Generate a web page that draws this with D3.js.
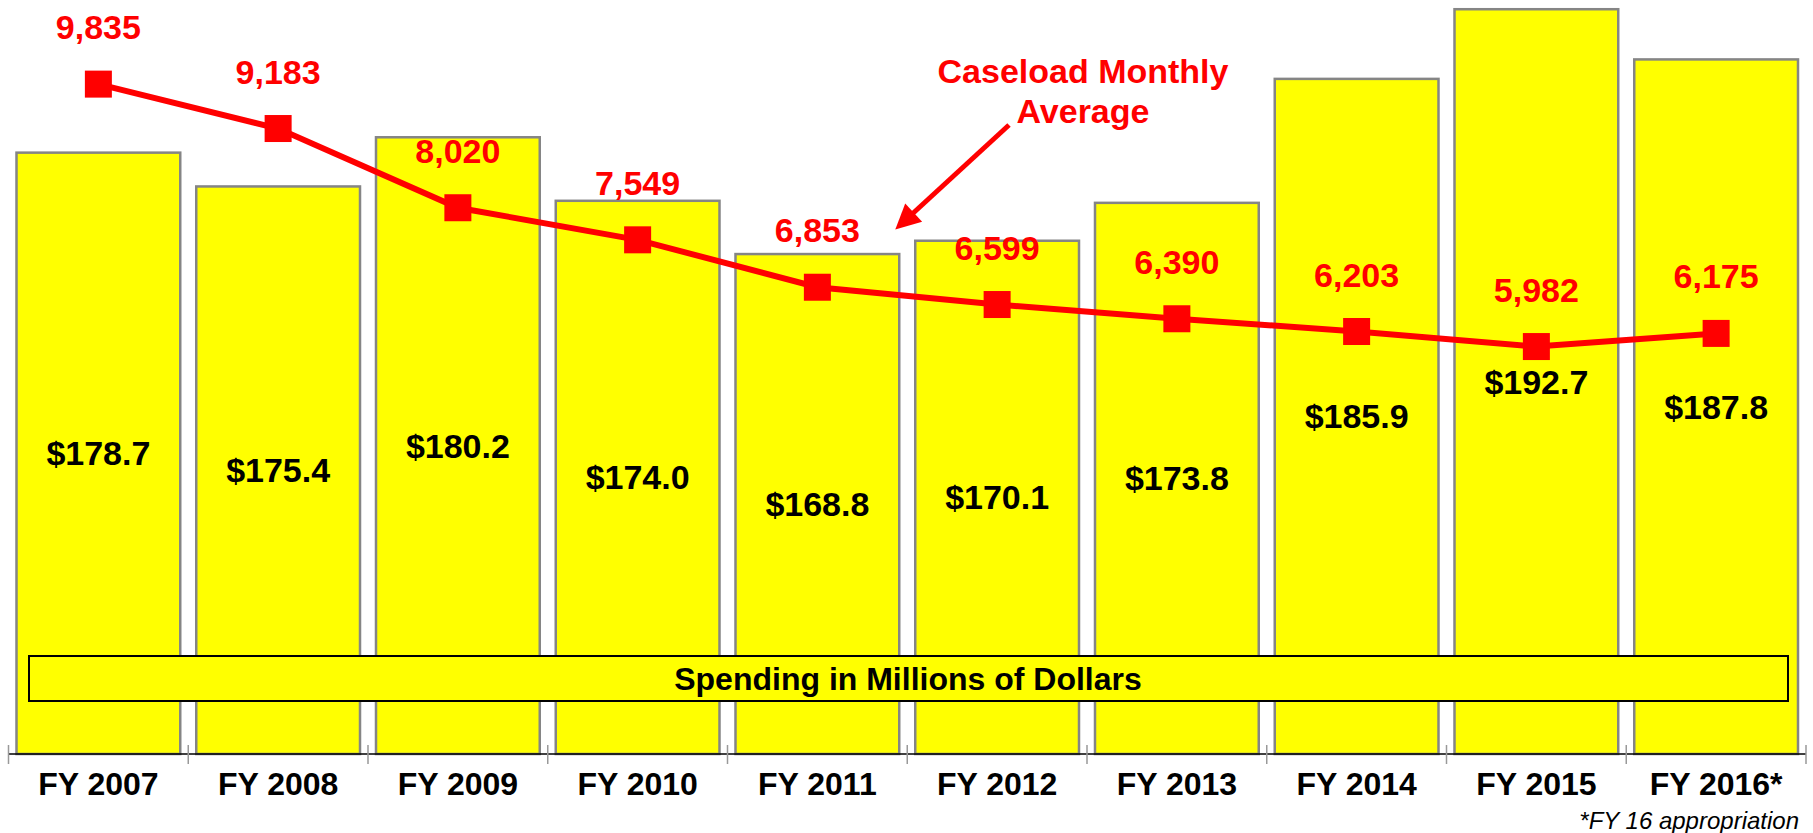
<!DOCTYPE html>
<html>
<head>
<meta charset="utf-8">
<script src="https://cdn.jsdelivr.net/npm/d3@7"></script>
<style>
  html, body { margin: 0; padding: 0; background: #fff; }
  svg { display: block; font-family: "Liberation Sans", Arial, sans-serif; }
</style>
</head>
<body>
<div class="canvas"></div>
<script>
// chart data
const years = ['FY 2007', 'FY 2008', 'FY 2009', 'FY 2010', 'FY 2011', 'FY 2012', 'FY 2013', 'FY 2014', 'FY 2015', 'FY 2016*'];
const spending = [178.7, 175.4, 180.2, 174.0, 168.8, 170.1, 173.8, 185.9, 192.7, 187.8]; // millions of dollars
const caseload = [9835, 9183, 8020, 7549, 6853, 6599, 6390, 6203, 5982, 6175]; // monthly average

// dimensions of the page
const dims = { width: 1813, height: 833 };
const plot = { left: 8.5, right: 1806, top: 0, bottom: 754 };

const svg = d3.select('.canvas')
  .append('svg')
  .attr('width', dims.width)
  .attr('height', dims.height);

// band scale for the fiscal years, bars fill most of each slot
const x = d3.scaleBand()
  .domain(years)
  .range([plot.left, plot.right])
  .paddingInner(0.089)
  .paddingOuter(0.0445);

// the spending axis does not start at zero
const yBar = d3.scaleLinear()
  .domain([120, 193.6])
  .range([plot.bottom, plot.top]);

// caseload uses its own (hidden) axis that starts at zero on the baseline
const yCase = d3.scaleLinear()
  .domain([0, 11070])
  .range([plot.bottom, plot.top]);

// bars
svg.append('g')
  .selectAll('rect')
  .data(spending)
  .enter()
  .append('rect')
  .attr('x', (d, i) => x(years[i]))
  .attr('y', d => yBar(d))
  .attr('width', x.bandwidth())
  .attr('height', d => plot.bottom - yBar(d))
  .attr('fill', '#ffff00')
  .attr('stroke', '#858585')
  .attr('stroke-width', 2.5);

// spending labels, in the middle of each bar
svg.append('g')
  .selectAll('text')
  .data(spending)
  .enter()
  .append('text')
  .attr('x', (d, i) => x(years[i]) + x.bandwidth() / 2)
  .attr('y', d => (yBar(d) + plot.bottom) / 2 + 12)
  .attr('text-anchor', 'middle')
  .attr('font-size', 34)
  .attr('font-weight', 'bold')
  .attr('fill', '#000')
  .text(d => '$' + d3.format('.1f')(d));

// "Spending in Millions of Dollars" banner across the bars
const banner = svg.append('g');
banner.append('rect')
  .attr('x', 29)
  .attr('y', 656)
  .attr('width', 1759)
  .attr('height', 45)
  .attr('fill', '#ffff00')
  .attr('stroke', '#000')
  .attr('stroke-width', 2);
banner.append('text')
  .attr('x', 908)
  .attr('y', 690)
  .attr('text-anchor', 'middle')
  .attr('font-size', 32)
  .attr('font-weight', 'bold')
  .attr('fill', '#000')
  .text('Spending in Millions of Dollars');

// caseload line
const line = d3.line()
  .x((d, i) => x(years[i]) + x.bandwidth() / 2)
  .y(d => yCase(d));

svg.append('path')
  .datum(caseload)
  .attr('d', line)
  .attr('fill', 'none')
  .attr('stroke', '#ff0000')
  .attr('stroke-width', 6);

// square markers
const mark = 27;
svg.append('g')
  .selectAll('rect')
  .data(caseload)
  .enter()
  .append('rect')
  .attr('x', (d, i) => x(years[i]) + x.bandwidth() / 2 - mark / 2)
  .attr('y', d => yCase(d) - mark / 2)
  .attr('width', mark)
  .attr('height', mark)
  .attr('fill', '#ff0000');

// caseload labels above the markers
svg.append('g')
  .selectAll('text')
  .data(caseload)
  .enter()
  .append('text')
  .attr('x', (d, i) => x(years[i]) + x.bandwidth() / 2)
  .attr('y', d => yCase(d) - 45)
  .attr('text-anchor', 'middle')
  .attr('font-size', 34)
  .attr('font-weight', 'bold')
  .attr('fill', '#ff0000')
  .text(d => d3.format(',')(d));

// annotation with arrow
svg.append('defs')
  .append('marker')
  .attr('id', 'arrow')
  .attr('viewBox', '0 0 10 10')
  .attr('refX', 2)
  .attr('refY', 5)
  .attr('markerWidth', 6)
  .attr('markerHeight', 5)
  .attr('orient', 'auto')
  .append('path')
  .attr('d', 'M0,0 L10,5 L0,10 Z')
  .attr('fill', '#ff0000');

svg.append('line')
  .attr('x1', 1009)
  .attr('y1', 125)
  .attr('x2', 910)
  .attr('y2', 216)
  .attr('stroke', '#ff0000')
  .attr('stroke-width', 5)
  .attr('marker-end', 'url(#arrow)');

const note = svg.append('text')
  .attr('text-anchor', 'middle')
  .attr('font-size', 34)
  .attr('font-weight', 'bold')
  .attr('fill', '#ff0000');
note.append('tspan').attr('x', 1083).attr('y', 83).text('Caseload Monthly');
note.append('tspan').attr('x', 1083).attr('y', 123).text('Average');

// x axis: baseline, tick marks between the years, labels
const axis = svg.append('g');
axis.append('line')
  .attr('x1', plot.left)
  .attr('x2', plot.right)
  .attr('y1', plot.bottom)
  .attr('y2', plot.bottom)
  .attr('stroke', '#000')
  .attr('stroke-width', 1.5);

axis.selectAll('.tick')
  .data(d3.range(years.length + 1))
  .enter()
  .append('line')
  .attr('class', 'tick')
  .attr('x1', i => plot.left + i * x.step())
  .attr('x2', i => plot.left + i * x.step())
  .attr('y1', plot.bottom - 9)
  .attr('y2', plot.bottom + 10)
  .attr('stroke', '#999')
  .attr('stroke-width', 1.5);

axis.selectAll('.label')
  .data(years)
  .enter()
  .append('text')
  .attr('class', 'label')
  .attr('x', d => x(d) + x.bandwidth() / 2)
  .attr('y', 795)
  .attr('text-anchor', 'middle')
  .attr('font-size', 32)
  .attr('font-weight', 'bold')
  .attr('fill', '#000')
  .text(d => d);

// footnote
svg.append('text')
  .attr('x', 1799)
  .attr('y', 829)
  .attr('text-anchor', 'end')
  .attr('font-size', 24)
  .attr('font-style', 'italic')
  .attr('fill', '#000')
  .text('*FY 16 appropriation');
</script>
</body>
</html>
